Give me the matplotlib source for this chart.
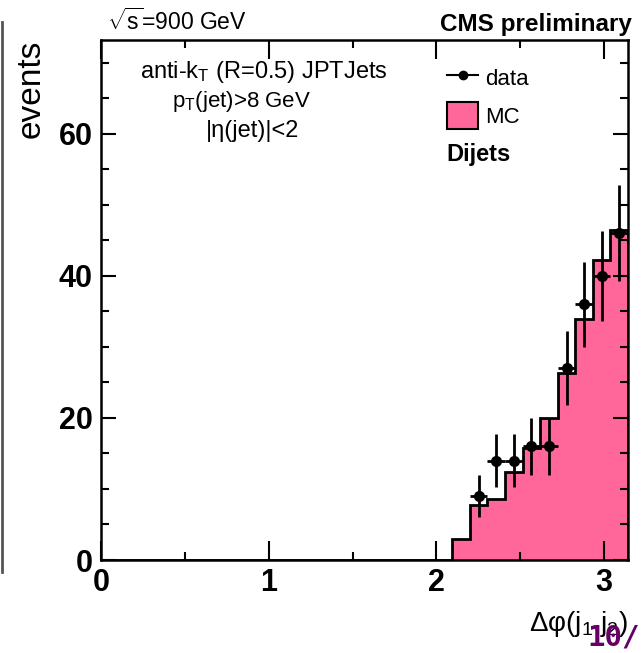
import numpy as np
import matplotlib.pyplot as plt
from matplotlib.lines import Line2D
from matplotlib.patches import Patch
from matplotlib.ticker import MultipleLocator

plt.rcParams['font.family'] = ['Liberation Sans', 'DejaVu Sans']
plt.rcParams['mathtext.fontset'] = 'custom'
plt.rcParams['mathtext.rm'] = 'Liberation Sans'
plt.rcParams['mathtext.it'] = 'Liberation Sans:italic'
plt.rcParams['mathtext.sf'] = 'Liberation Sans'

# 30 bins in delta phi between 0 and pi, only the last ten are filled
n_bins = 30
first_bin = 20
mc_counts = [3.0, 7.7, 8.6, 12.4, 15.7, 20.0, 26.3, 33.9, 42.2, 46.5]
data_first_bin = 21
data_counts = [9, 14, 14, 16, 16, 27, 36, 40, 46]

pink = '#ff6699'

edges = np.linspace(0, np.pi, n_bins + 1)
width = edges[1] - edges[0]
mc = np.zeros(n_bins)
mc[first_bin:first_bin + len(mc_counts)] = mc_counts

centers = 0.5 * (edges[:-1] + edges[1:])
data_x = centers[data_first_bin:data_first_bin + len(data_counts)]
data_y = np.array(data_counts, dtype=float)

fig = plt.figure(figsize=(6.41, 6.53), dpi=100)
ax = fig.add_axes([0.1576, 0.1424, 0.8221, 0.7963])

ax.stairs(mc, edges, fill=True, color=pink)
ax.stairs(mc, edges, color='black', linewidth=2, baseline=0)
ax.errorbar(data_x, data_y, yerr=np.sqrt(data_y), xerr=width / 2, fmt='o',
            color='black', ms=7, elinewidth=2, capsize=0, zorder=5)

ax.set_xlim(0, np.pi)
ax.set_ylim(0, 73.2)
ax.xaxis.set_major_locator(MultipleLocator(1))
ax.xaxis.set_minor_locator(MultipleLocator(0.5))
ax.yaxis.set_major_locator(MultipleLocator(20))
ax.yaxis.set_minor_locator(MultipleLocator(5))
ax.tick_params(which='both', direction='in', top=True, right=True,
               width=1.5, labelsize=22)
ax.tick_params(which='major', length=11, pad=6)
ax.tick_params(which='minor', length=6)
ax.tick_params(axis='x', which='major', length=14)
for lab in ax.get_xticklabels() + ax.get_yticklabels():
    lab.set_fontweight('bold')
for s in ax.spines.values():
    s.set_linewidth(1.8)

ax.set_ylabel('events', fontsize=24, loc='top')
ax.yaxis.set_label_coords(-0.103, 1.0)
ax.set_xlabel('Δφ(j$_1$,j$_2$)', fontsize=20, loc='right')
ax.xaxis.set_label_coords(1.0, -0.095)

fig.text(264 / 641, 1 - 72 / 653, r'anti-k$_\mathrm{T}$ (R=0.5) JPTJets',
         ha='center', va='center', fontsize=17)
fig.text(241 / 641, 1 - 102 / 653, r'p$_\mathrm{T}$(jet)>8 GeV',
         ha='center', va='center', fontsize=16)
fig.text(253 / 641, 1 - 131 / 653, '|η(jet)|<2',
         ha='center', va='center', fontsize=17)

fig.text(107 / 641, 1 - 22 / 653, r'$\sqrt{\mathrm{s}}$=900 GeV',
         ha='left', va='center', fontsize=16.5)
fig.text(632 / 641, 1 - 24 / 653, 'CMS preliminary', ha='right', va='center',
         fontsize=17.5, fontweight='bold')

handles = [Line2D([], [], color='black', marker='o', ms=6, lw=1.5),
           Patch(facecolor=pink, edgecolor='black', linewidth=1.5)]
ax.legend(handles, ['data', 'MC'], loc='upper left',
          bbox_to_anchor=(0.64, 0.97), frameon=False, fontsize=16,
          handlelength=1.4, handleheight=1.5, handletextpad=0.3,
          labelspacing=0.45, borderaxespad=0)
fig.text(446 / 641, 1 - 155 / 653, 'Dijets', ha='left', va='center',
         fontsize=17, fontweight='bold')

# slide remnants around the plot
fig.add_artist(Line2D([2 / 641, 2 / 641], [1 - 22 / 653, 1 - 572 / 653],
                      color='#555555', lw=2))
fig.text(614 / 641, 1 - 637 / 653, '10/', ha='center', va='center',
         fontsize=21, fontweight='bold', color='#660066',
         family='DejaVu Sans Mono')

fig.savefig('out.png', dpi=100)
